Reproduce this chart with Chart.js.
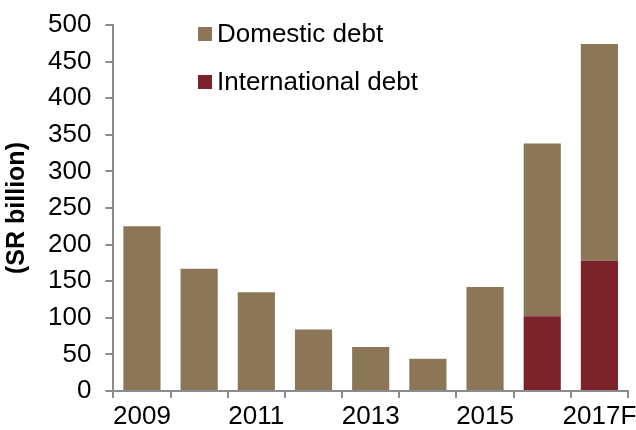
<!DOCTYPE html>
<html>
<head>
<meta charset="utf-8">
<script src="https://cdn.jsdelivr.net/npm/chart.js@4"></script>
<style>
  html, body { margin: 0; padding: 0; background: #fff; }
  #wrap { width: 636px; height: 430px; }
</style>
</head>
<body>
<div id="wrap"><canvas id="myChart"></canvas></div>
<script>
// data
const years = ['2009', '2010', '2011', '2012', '2013', '2014', '2015', '2016', '2017F'];
const domesticDebt = [225, 167, 135, 84, 60, 44, 142, 236, 296];
const internationalDebt = [0, 0, 0, 0, 0, 0, 0, 102, 178];
const yTicks = [0, 50, 100, 150, 200, 250, 300, 350, 400, 450, 500];

const brown = '#8b7757';
const red = '#7c222a';
const axisGrey = '#8c8c8c';
const fontFam = '"Liberation Sans", Arial, sans-serif';

// legend drawn inside the plot, stacked vertically
const innerLegend = {
    id: 'innerLegend',
    afterDraw(chart) {
        const ctx = chart.ctx;
        const items = [
            { label: chart.data.datasets[1].label, color: chart.data.datasets[1].backgroundColor },
            { label: chart.data.datasets[0].label, color: chart.data.datasets[0].backgroundColor }
        ];
        ctx.save();
        ctx.font = '26px ' + fontFam;
        ctx.textBaseline = 'middle';
        items.forEach((it, i) => {
            const y = 34 + i * 48;
            ctx.fillStyle = it.color;
            ctx.fillRect(198, y - 7, 14, 14);
            ctx.fillStyle = '#000';
            ctx.fillText(it.label, 217, y + 1);
        });
        ctx.restore();
    }
};

const data = {
    labels: years,
    datasets: [{
        label: 'International debt',
        backgroundColor: red,
        data: internationalDebt,
        barPercentage: 0.65,
        categoryPercentage: 1
    },
    {
        label: 'Domestic debt',
        backgroundColor: brown,
        data: domesticDebt,
        barPercentage: 0.65,
        categoryPercentage: 1
    }]
};

const config = {
    type: 'bar',
    data,
    options: {
        responsive: true,
        maintainAspectRatio: false,
        animation: false,
        layout: { padding: { top: 25, right: 8, left: 5, bottom: -6 } },
        scales: {
            x: {
                stacked: true,
                // let the last label run past the plot edge
                afterFit: (scale) => { scale.paddingRight = 0; },
                grid: {
                    display: true,
                    drawOnChartArea: false,
                    offset: true,
                    color: axisGrey,
                    tickLength: 7,
                    lineWidth: 2
                },
                border: { color: axisGrey, width: 2 },
                ticks: {
                    autoSkip: false,
                    maxRotation: 0,
                    color: '#000',
                    padding: 6,
                    font: { family: fontFam, size: 26, lineHeight: 1 },
                    callback: function (value, index) {
                        return index % 2 === 0 ? this.getLabelForValue(value) : '';
                    }
                }
            },
            y: {
                stacked: true,
                min: 0,
                max: 500,
                afterBuildTicks: (axis) => { axis.ticks = yTicks.map(v => ({ value: v })); },
                afterFit: (scale) => { scale.paddingTop = 0; },
                grid: {
                    display: true,
                    drawOnChartArea: false,
                    color: axisGrey,
                    tickLength: 8,
                    lineWidth: 2
                },
                border: { color: axisGrey, width: 2 },
                ticks: {
                    color: '#000',
                    padding: 14,
                    font: { family: fontFam, size: 26, lineHeight: 1 }
                },
                title: {
                    display: true,
                    text: '(SR billion)',
                    color: '#000',
                    padding: { top: 0, bottom: 4 },
                    font: { family: fontFam, size: 25, weight: 'bold', lineHeight: 1 }
                }
            }
        },
        plugins: {
            legend: { display: false },
            tooltip: { enabled: false }
        }
    },
    plugins: [innerLegend]
};

const myChart = new Chart(document.getElementById('myChart'), config);
</script>
</body>
</html>
